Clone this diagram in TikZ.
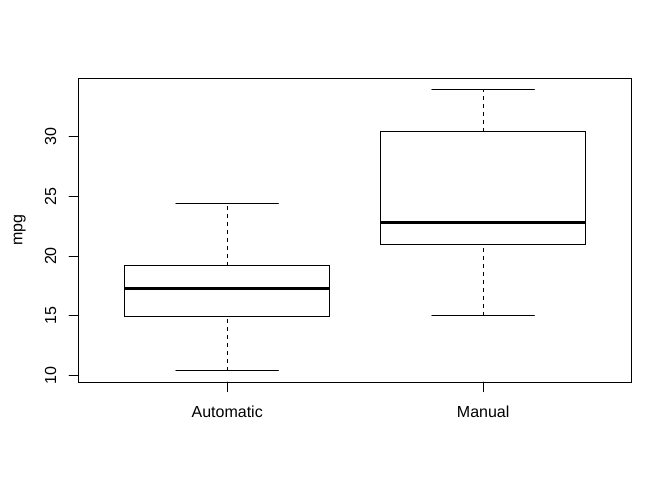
\documentclass[tikz,border=0pt]{standalone}
\usepackage{fontspec}
\setmainfont{Liberation Sans}
\begin{document}
\begin{tikzpicture}[x=1pt,y=1pt,
  font=\fontsize{12}{14}\selectfont,
  thin/.style={line width=0.75pt, line cap=round},
  medline/.style={line width=2.25pt, line cap=butt},
  whisk/.style={line width=0.75pt, dash pattern=on 3pt off 3pt},
  ticklab/.style={rotate=90, anchor=base, inner sep=0pt},
  xlab/.style={anchor=base, inner sep=0pt}]
\useasboundingbox (0,0) rectangle (504,360);
\node[ticklab] (ylab) at (16.7,187.5) {mpg};
\begin{scope}[x=192pt, y=8.966pt, shift={(-21.61pt,-11.39pt)}]
  % frame
  \draw[thin] (0.42,9.46) rectangle (2.58,34.84);
  % y axis
  \draw[thin] (0.42,10) -- (0.42,30);
  \foreach \v in {10,15,20,25,30}{
    \draw[thin] (0.42,\v) -- ++(-7.2pt,0);
    \node[ticklab] (t\v) at ([xshift=-17pt]0.42,\v) {\v};
  }
  % x axis
  \draw[thin] (1,9.46) -- (2,9.46);
  \draw[thin] (1,9.46) -- ++(0,-7.2pt);
  \draw[thin] (2,9.46) -- ++(0,-7.2pt);
  \node[xlab] (auto) at ([yshift=-26.2pt]1,9.46) {Automatic};
  \node[xlab] (man) at ([yshift=-26.2pt]2,9.46) {Manual};
  % Automatic box
  \draw[whisk] (1,10.4) -- (1,14.95);
  \draw[whisk] (1,19.2) -- (1,24.4);
  \draw[thin] (0.8,10.4) -- (1.2,10.4);
  \draw[thin] (0.8,24.4) -- (1.2,24.4);
  \draw[thin] (0.6,14.95) rectangle (1.4,19.2);
  \draw[medline] (0.6,17.3) -- (1.4,17.3);
  % Manual box
  \draw[whisk] (2,15.0) -- (2,21.0);
  \draw[whisk] (2,30.4) -- (2,33.9);
  \draw[thin] (1.8,15.0) -- (2.2,15.0);
  \draw[thin] (1.8,33.9) -- (2.2,33.9);
  \draw[thin] (1.6,21.0) rectangle (2.4,30.4);
  \draw[medline] (1.6,22.8) -- (2.4,22.8);
\end{scope}
\end{tikzpicture}
\end{document}
